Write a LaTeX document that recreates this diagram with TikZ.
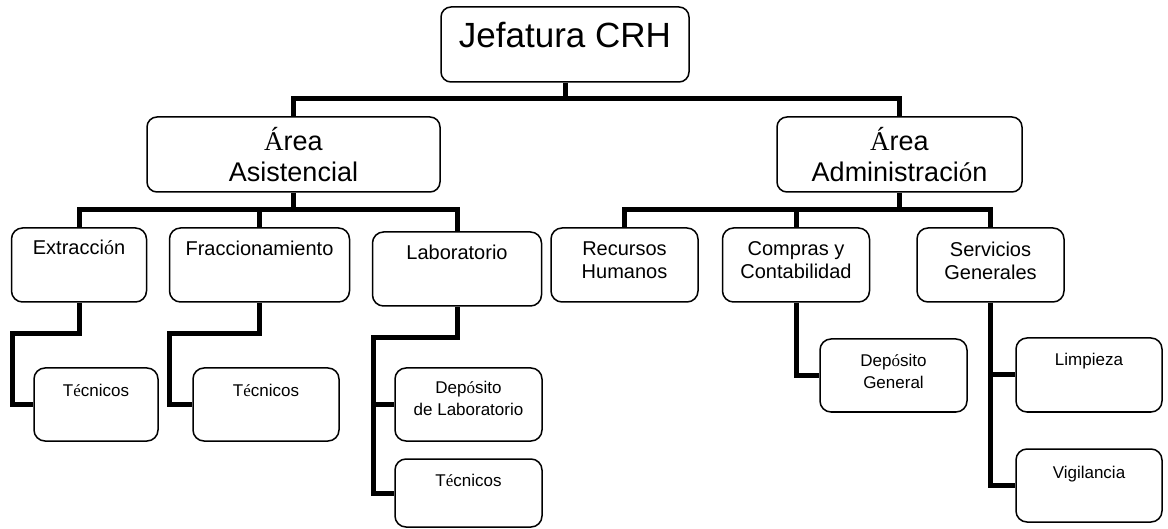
\documentclass[tikz,border=0pt]{standalone}
\usepackage{fontspec}
\setmainfont{Liberation Sans}
\newfontfamily\accfont{Liberation Serif}
\newcommand\ac[1]{{\accfont #1}}
\newcommand\orgbox[6][]{\node[bx,#1, minimum width={(#5)-(#3)}, minimum height={(#6)-(#4)}] (#2) at ({((#3)+(#5))/2},{((#4)+(#6))/2}) {};}
\tikzset{
  bx/.style={draw=black, line width=1.5pt, rounded corners=10pt, fill=white, inner sep=0pt},
  conn/.style={draw=black, line width=5pt},
  txt/.style={anchor=base, inner sep=0pt},
  fA/.style={font=\fontsize{35}{40}\selectfont},
  fB/.style={font=\fontsize{27}{31}\selectfont},
  fC/.style={font=\fontsize{20}{23}\selectfont},
  fD/.style={font=\fontsize{17}{21}\selectfont}
}
\begin{document}
\begin{tikzpicture}[x=1pt,y=-1pt]
\fill[white] (0,0) rectangle (1168,529);
\useasboundingbox (0,0) rectangle (1168,529);
% boxes
\orgbox{jef}{441}{7}{689}{82}
\orgbox{asis}{147}{117}{440}{192}
\orgbox{adm}{777}{117}{1022}{192}
\orgbox[rounded corners=11pt]{ext}{11.5}{228}{146.5}{302}
\orgbox[rounded corners=11pt]{fra}{169.5}{228}{349.5}{302}
\orgbox[rounded corners=11pt]{lab}{372.5}{232}{541.5}{306}
\orgbox[rounded corners=11pt]{rec}{551}{228}{698}{302}
\orgbox[rounded corners=11pt]{comp}{722.5}{228}{869.5}{302}
\orgbox[rounded corners=11pt]{serv}{917}{228}{1064}{302}
\orgbox[rounded corners=11pt]{tec1}{34}{368}{158}{441}
\orgbox[rounded corners=11pt]{tec2}{193}{368}{339}{441}
\orgbox[rounded corners=11pt]{dlab}{395}{368}{542}{441}
\orgbox[rounded corners=11pt]{tec3}{395}{459}{542}{527}
\orgbox[rounded corners=11pt]{dgen}{820}{339}{967}{412}
\orgbox[rounded corners=11pt]{lim}{1016}{338}{1162}{412}
\orgbox[rounded corners=11pt]{vig}{1016}{449}{1162}{522}
% texts
\node[txt,fA] (jef-t) at (565,48) {Jefatura CRH};
\node[txt,fB] (asis-t1) at (293.5,151) {\ac{Á}rea};
\node[txt,fB] (asis-t2) at (293.5,182) {Asistencial};
\node[txt,fB] (adm-t1) at (899.5,151) {\ac{Á}rea};
\node[txt,fB] (adm-t2) at (899.5,182) {Administraci\ac{ó}n};
\node[txt,fC] (ext-t) at (79,255) {Extracci\ac{ó}n};
\node[txt,fC] (fra-t) at (259.5,255.5) {Fraccionamiento};
\node[txt,fC] (lab-t) at (457,260) {Laboratorio};
\node[txt,fC] (rec-t1) at (624.5,255.5) {Recursos};
\node[txt,fC] (rec-t2) at (624.5,278.5) {Humanos};
\node[txt,fC] (comp-t1) at (796,255.5) {Compras y};
\node[txt,fC] (comp-t2) at (796,278.5) {Contabilidad};
\node[txt,fC] (serv-t1) at (990.5,256.5) {Servicios};
\node[txt,fC] (serv-t2) at (990.5,279.5) {Generales};
\node[txt,fD] (tec1-t) at (96,396) {T\ac{é}cnicos};
\node[txt,fD] (tec2-t) at (266,396) {T\ac{é}cnicos};
\node[txt,fD] (dlab-t1) at (468.5,394) {Dep\ac{ó}sito};
\node[txt,fD] (dlab-t2) at (468.5,416) {de Laboratorio};
\node[txt,fD] (tec3-t) at (468.5,486.5) {T\ac{é}cnicos};
\node[txt,fD] (dgen-t1) at (893.5,366.5) {Dep\ac{ó}sito};
\node[txt,fD] (dgen-t2) at (893.5,388.5) {General};
\node[txt,fD] (lim-t) at (1089,366) {Limpieza};
\node[txt,fD] (vig-t) at (1089,478) {Vigilancia};
% connectors
\coordinate (h0) at (565,99);
\coordinate (h1) at (293.5,210);
\coordinate (h2) at (899.5,210);
\coordinate (e1) at (12,334);
\coordinate (f1) at (169.5,334);
\coordinate (l1) at (373,338);
\draw[conn] (jef.south) -- (h0);
\draw[conn] (asis.north) |- (h0) -| (adm.north);
\draw[conn] (asis.south) -- (h1);
\draw[conn] (ext.north) |- (h1) -| (lab.north);
\draw[conn] (fra.north) -- (fra.north |- h1);
\draw[conn] (adm.south) -- (h2);
\draw[conn] (rec.north) |- (h2) -| (serv.north);
\draw[conn] (comp.north) -- (comp.north |- h2);
\draw[conn] (ext.south) |- (e1) |- (tec1.west);
\draw[conn] (fra.south) |- (f1) |- (tec2.west);
\draw[conn] (lab.south) |- (l1) |- (tec3.west);
\draw[conn] (dlab.west) -- (dlab.west -| l1);
\draw[conn] (comp.south) |- (dgen.west);
\draw[conn] (serv.south) |- (vig.west);
\draw[conn] (lim.west) -- (lim.west -| serv.south);
\end{tikzpicture}
\end{document}
